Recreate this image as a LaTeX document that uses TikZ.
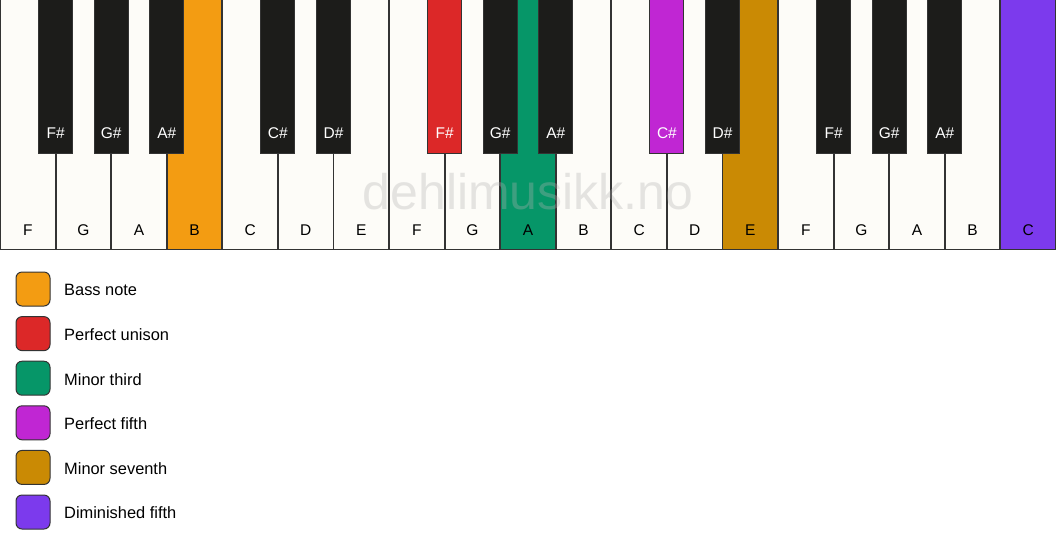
\documentclass[tikz,border=0pt]{standalone}
\usepackage{fontspec}
\setmainfont{Liberation Sans}
\definecolor{ivory}{HTML}{FDFCF8}
\definecolor{keyblack}{HTML}{1C1C1A}
\definecolor{edge}{HTML}{333333}
\definecolor{cbass}{HTML}{F39C12}
\definecolor{cunison}{HTML}{DC2828}
\definecolor{cthird}{HTML}{069668}
\definecolor{cfifth}{HTML}{C026D3}
\definecolor{cseventh}{HTML}{CA8A04}
\definecolor{cdim}{HTML}{7C3AED}
\tikzset{
  whitekey/.style={draw=edge, line width=1.3pt, fill=ivory},
  blackkey/.style={draw=edge, line width=1pt, fill=keyblack},
  wlabel/.style={font=\fontsize{15.5}{15.5}\selectfont, text=black, anchor=base},
  blabel/.style={font=\fontsize{15.5}{15.5}\selectfont, text=white, anchor=base},
  legendbox/.style={draw=edge, line width=1pt, rounded corners=6pt, minimum width=34pt, minimum height=34pt, inner sep=0pt},
  legendtext/.style={font=\fontsize{16.4}{16.4}\selectfont, anchor=west, inner sep=0pt},
  watermark/.style={font=\fontsize{50}{50}\selectfont, text=gray!60, text opacity=0.33, anchor=base, inner sep=0pt}
}
\begin{document}
\begin{tikzpicture}[x=1pt,y=-1pt]
\useasboundingbox (0,0) rectangle (1056,550);
\fill[white] (0,0) rectangle (1056,550);
\def\w{55.5789}
% white keys
\foreach \i/\n/\c in {0/F/ivory,1/G/ivory,2/A/ivory,3/B/cbass,4/C/ivory,5/D/ivory,6/E/ivory,7/F/ivory,8/G/ivory,9/A/cthird,10/B/ivory,11/C/ivory,12/D/ivory,13/E/cseventh,14/F/ivory,15/G/ivory,16/A/ivory,17/B/ivory,18/C/cdim} {
  \path[whitekey, fill=\c] ({\i*\w+0.3},-2) rectangle ({(\i+1)*\w-0.3},249.5);
  \node[wlabel] (w\i) at ({(\i+0.5)*\w},235.5) {\n};
}
% black keys
\foreach \i/\n/\c in {1/F\#/keyblack,2/G\#/keyblack,3/A\#/keyblack,5/C\#/keyblack,6/D\#/keyblack,8/F\#/cunison,9/G\#/keyblack,10/A\#/keyblack,12/C\#/cfifth,13/D\#/keyblack,15/F\#/keyblack,16/G\#/keyblack,17/A\#/keyblack} {
  \path[blackkey, fill=\c] ({\i*\w-17},-2) rectangle ({\i*\w+17},153);
  \node[blabel] (b\i) at ({\i*\w},138.5) {\n};
}
% watermark
\node[watermark] (wm) at (528,209) {dehlimusikk.no};
% legend
\foreach \k/\c/\t in {0/cbass/Bass note,1/cunison/Perfect unison,2/cthird/Minor third,3/cfifth/Perfect fifth,4/cseventh/Minor seventh,5/cdim/Diminished fifth} {
  \node[legendbox, fill=\c] (lb\k) at (33,{289+\k*44.6}) {};
  \node[legendtext] (lt\k) at (64,{290+\k*44.6}) {\t};
}
\end{tikzpicture}
\end{document}
